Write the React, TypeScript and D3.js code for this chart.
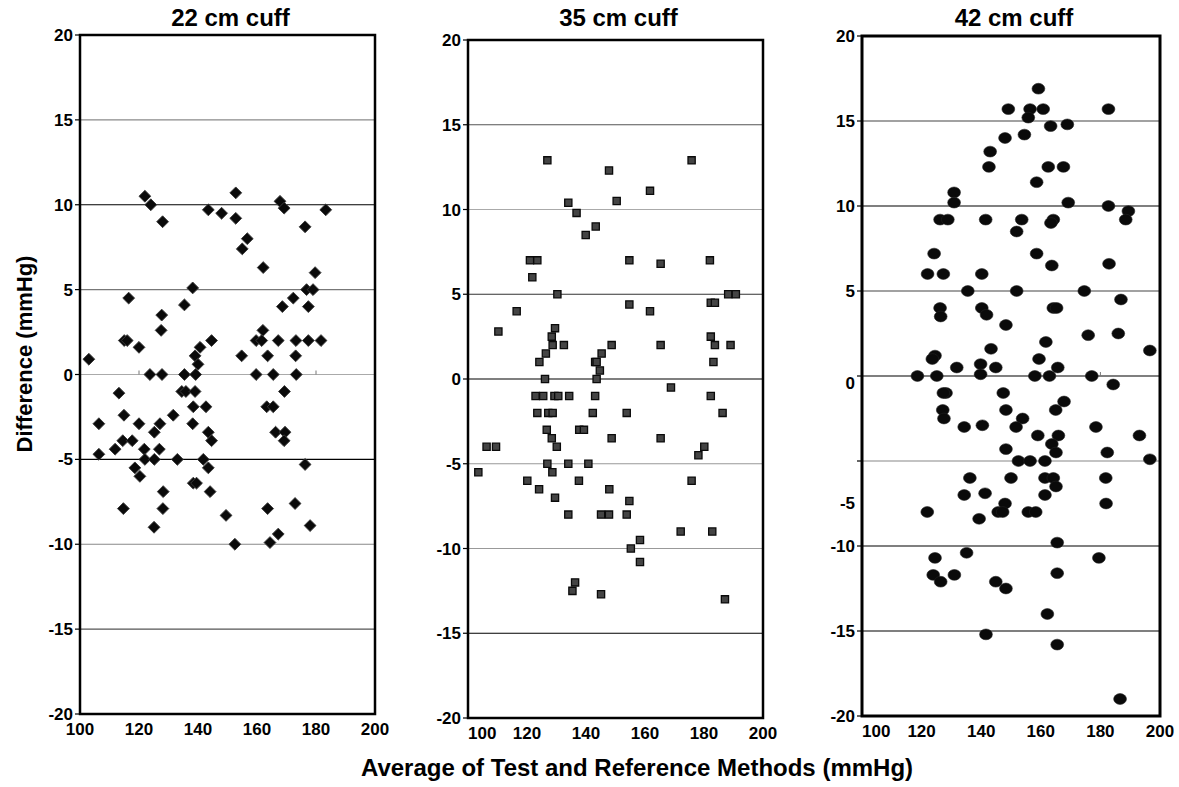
import React from "react";
import * as d3 from "d3";

// ---------- data ----------
const titles = ["22 cm cuff", "35 cm cuff", "42 cm cuff"];
const xTicks = [100, 120, 140, 160, 180, 200];
const yTicks = [20, 15, 10, 5, 0, -5, -10, -15, -20];
const xTitle = "Average of Test and Reference Methods (mmHg)";
const yTitle = "Difference (mmHg)";

// 22 cm cuff: [average, difference]
const cuff22: [number, number][] = [
  [103, 0.9], [122, 10.5], [124, 10.0], [128, 9.0], [115, 2.0], [116, 2.0], [116.5, 4.5], [120, 1.6],
  [127.7, 3.5], [127.5, 2.6], [123.7, 0], [127.8, 0], [135.4, 4.1], [138.2, 5.1], [135.4, 0], [139.2, 0],
  [139, 1.1], [140.7, 1.6], [140, 0.6], [143.5, 9.7], [148, 9.5], [152.8, 10.7], [152.8, 9.2], [144.6, 2.0],
  [156.7, 8.0], [155, 7.4], [154.8, 1.1], [162.1, 6.3], [159.7, 2.0], [162, 2.6], [161.6, 2.0], [163.6, 1.1],
  [159.7, 0], [165.5, 0], [167.8, 10.2], [169.2, 9.8], [168.6, 4.0], [167.2, 2.0], [172.3, 4.5], [173.2, 2.0],
  [173.1, 1.1], [173.3, 0], [176.3, 8.7], [176.8, 5.0], [179, 5.0], [179.7, 6.0], [177.4, 4.0], [177.4, 2.0],
  [181.7, 2.0], [183.3, 9.7],
  [106.4, -2.9], [106.4, -4.7], [113.2, -1.1], [114.9, -2.4], [111.9, -4.4], [114.5, -3.9], [117.7, -3.9],
  [114.7, -7.9], [118.6, -5.5], [120.3, -6.0], [120, -2.9], [121.8, -4.4], [122, -5.0], [125.2, -3.4],
  [127.1, -2.9], [126.9, -4.4], [125.2, -5.0], [128.2, -6.9], [128.1, -7.9], [125.1, -9.0], [131.6, -2.4],
  [133, -5.0], [134.5, -1.0], [135.9, -1.0], [139, -1.0], [138.4, -1.9], [138.2, -2.9], [142.7, -1.9],
  [143.5, -3.4], [144.6, -3.9], [141.8, -5.0], [143.5, -5.5], [138.4, -6.4], [139.5, -6.4], [144.1, -6.9],
  [149.5, -8.3], [152.5, -10.0], [163.3, -1.9], [165.5, -1.9], [169.3, -1.0], [166.3, -3.4], [169.5, -3.4],
  [169.2, -3.9], [176.3, -5.3], [172.9, -7.6], [163.6, -7.9], [164.4, -9.9], [167.2, -9.4], [178, -8.9],
];

// 35 cm cuff
const cuff35: [number, number][] = [
  [110.3, 2.8], [116.5, 4.0], [121, 7.0], [123.5, 7.0], [121.8, 6.0], [126.9, 12.9], [134, 10.4], [136.8, 9.8],
  [139.9, 8.5], [143.3, 9.0], [147.8, 12.3], [150.4, 10.5], [130.3, 5.0], [129.5, 3.0], [128.4, 2.5], [128.7, 2.0],
  [132.5, 2.0], [126.4, 1.5], [124.2, 1.0], [126.1, 0], [143.1, 1.0], [143.6, 1.0], [145.3, 1.5], [144.7, 0.5],
  [143.6, 0], [148.7, 2.0], [154.7, 7.0], [154.7, 4.4], [161.7, 11.1], [161.7, 4.0], [165.3, 6.8], [165.3, 2.0],
  [175.8, 12.9], [182, 7.0], [182.3, 4.5], [183.7, 4.5], [182.3, 2.5], [183.7, 2.0], [183.2, 1.0], [188.2, 5.0],
  [190.8, 5.0], [189, 2.0],
  [122.9, -1], [125.5, -1], [129.3, -1], [130.6, -1], [134.3, -1], [143.1, -1], [123.5, -2], [127.2, -2],
  [128.7, -2], [142.3, -2], [126.7, -3], [128.4, -3.5], [130.1, -4], [137.7, -3], [139.3, -3], [106.3, -4],
  [109.5, -4], [103.5, -5.5], [126.9, -5], [128.6, -5.5], [134, -5], [140.8, -5], [120.1, -6], [124.1, -6.5],
  [129.5, -7], [137.6, -6], [147.9, -6.5], [134, -8], [145.1, -8], [147.8, -8], [153.8, -8], [154.7, -7.2],
  [153.8, -2], [148.7, -3.5], [155.2, -10], [158.3, -9.5], [158.3, -10.8], [135.4, -12.5], [136.3, -12],
  [145.1, -12.7], [168.8, -0.5], [165.3, -3.5], [172.1, -9], [175.8, -6], [178.1, -4.5], [180.1, -4],
  [182.3, -1], [186.3, -2], [182.8, -9], [187.1, -13],
];

// 42 cm cuff
const cuff42: [number, number][] = [
  [159.2, 16.9], [149.1, 15.7], [156.4, 15.7], [160.8, 15.7], [155.8, 15.2], [163.3, 14.7], [168.9, 14.8],
  [182.7, 15.7], [148, 14.0], [154.5, 14.2], [143, 13.2], [142.6, 12.3], [162.5, 12.3], [167.6, 12.3],
  [158.6, 11.4], [130.9, 10.8], [130.9, 10.2], [169.2, 10.2], [182.7, 10.0], [189.4, 9.7], [188.5, 9.2],
  [126.2, 9.2], [128.8, 9.2], [141.5, 9.2], [153.6, 9.2], [151.9, 8.5], [164.2, 9.2], [163.4, 9.0],
  [124.2, 7.2], [158.6, 7.2], [122, 6.0], [127.3, 6.0], [140.2, 6.0], [163.7, 6.5], [182.9, 6.6],
  [135.5, 5.0], [151.9, 5.0], [174.6, 5.0], [186.9, 4.5], [126.2, 4.0], [126.4, 3.5], [140.2, 4.0],
  [141.8, 3.6], [164.2, 4.0], [165.3, 4.0], [148.3, 3.0], [175.9, 2.4], [186, 2.5], [161.7, 2.0],
  [143.3, 1.6], [196.6, 1.5], [124.5, 1.2], [123.6, 1.0], [131.8, 0.5], [144.9, 0.5], [139.8, 0.7],
  [159.4, 1.0], [165.7, 0.5], [118.6, 0], [125.1, 0], [139.8, 0.1], [158, 0], [162.9, 0], [177.1, 0],
  [184.3, -0.5],
  [128.2, -1], [127.3, -1], [127.1, -2], [127.5, -2.5], [147.4, -1], [148.3, -2], [167.8, -1.5], [165, -2],
  [153.9, -2.5], [134.3, -3], [140.4, -2.9], [151.7, -3], [178.5, -3], [159, -3.5], [165.9, -3.5],
  [163.7, -4], [165.1, -4.5], [148.3, -4.3], [193.1, -3.5], [182.3, -4.5], [152.5, -5], [156.4, -5],
  [161.4, -5], [196.6, -4.9], [136.2, -6], [150, -6], [161.4, -6], [164.2, -6], [165.1, -6.5], [181.8, -6],
  [134.3, -7], [141.3, -6.9], [161.4, -7], [148, -7.5], [121.9, -8], [145.7, -8], [147.2, -8], [155.8, -8],
  [158.3, -8], [139.3, -8.4], [181.9, -7.5], [165.5, -9.8], [135.1, -10.4], [124.5, -10.7], [179.5, -10.7],
  [123.9, -11.7], [126.4, -12.1], [131, -11.7], [165.5, -11.6], [144.9, -12.1], [148.3, -12.5], [162.2, -14],
  [141.6, -15.2], [165.5, -15.8], [186.6, -19],
];

// ---------- layout / style ----------
type Panel = {
  title: string;
  data: [number, number][];
  left: number; right: number; top: number; bottom: number;
  marker: "diamond" | "square" | "ellipse";
  grid: Record<string, string>;
  firstXLabelStart: boolean;
  zeroTicks: boolean;
  labelShift: Record<string, number>;
};

const panels: Panel[] = [
  {
    title: titles[0], data: cuff22, left: 80, right: 375, top: 35, bottom: 714, marker: "diamond",
    grid: { "15": "#8a8a8a", "10": "#000", "5": "#777", "0": "#aaa", "-5": "#000", "-10": "#888", "-15": "#555" },
    firstXLabelStart: false, zeroTicks: true, labelShift: {},
  },
  {
    title: titles[1], data: cuff35, left: 468, right: 763, top: 40, bottom: 718, marker: "square",
    grid: { "15": "#555", "10": "#aaa", "5": "#333", "0": "#000", "-5": "#999", "-10": "#999", "-15": "#000" },
    firstXLabelStart: true, zeroTicks: false, labelShift: {},
  },
  {
    title: titles[2], data: cuff42, left: 862, right: 1160, top: 36, bottom: 716, marker: "ellipse",
    grid: { "15": "#444", "10": "#000", "5": "#444", "0": "#000", "-5": "#888", "-10": "#000", "-15": "#000" },
    firstXLabelStart: true, zeroTicks: true, labelShift: { "0": 7, "-5": 42 },
  },
];

const FONT = "'Liberation Sans', Arial, Helvetica, sans-serif";

function PanelView({ p }: { p: Panel }) {
  const x = d3.scaleLinear().domain([100, 200]).range([p.left, p.right]);
  const y = d3.scaleLinear().domain([-20, 20]).range([p.bottom, p.top]);
  const diamond = d3.symbol(d3.symbolSquare, 70)() as string;
  const square = d3.symbol(d3.symbolSquare, 52)() as string;
  const cx = (p.left + p.right) / 2 + 3;

  return (
    <g>
      <text x={cx} y={26} textAnchor="middle" fontFamily={FONT} fontWeight="bold" fontSize={24}>
        {p.title}
      </text>
      {/* gridlines */}
      {yTicks.filter((t) => t !== 20 && t !== -20).map((t) => (
        <line key={"g" + t} x1={p.left} x2={p.right} y1={y(t)} y2={y(t)}
          stroke={p.grid[String(t)] || "#666"} strokeWidth={1.2} />
      ))}
      {/* y ticks and labels */}
      {yTicks.map((t) => (
        <g key={"y" + t}>
          <line x1={p.left - 5} x2={p.left} y1={y(t)} y2={y(t)} stroke="#000" strokeWidth={1.2} />
          <text x={p.left - 7} y={y(t) + (p.labelShift[String(t)] || 0)} dy="0.36em" textAnchor="end"
            fontFamily={FONT} fontWeight="bold" fontSize={17}>
            {t}
          </text>
        </g>
      ))}
      {/* zero-line x ticks */}
      {p.zeroTicks && xTicks.slice(1, -1).map((t) => (
        <line key={"z" + t} x1={x(t)} x2={x(t)} y1={y(0) - 4} y2={y(0)} stroke="#777" strokeWidth={1} />
      ))}
      {/* x labels */}
      {xTicks.map((t, i) => (
        <text key={"x" + t} x={x(t)} y={p.bottom + 21}
          textAnchor={i === 0 && p.firstXLabelStart ? "start" : "middle"}
          fontFamily={FONT} fontWeight="bold" fontSize={17}>
          {t}
        </text>
      ))}
      {/* points */}
      {p.data.map(([a, b], i) => {
        const px = x(a), py = y(b);
        if (p.marker === "diamond")
          return <path key={i} d={diamond} transform={`translate(${px},${py}) rotate(45)`}
            fill="#0a0a0a" stroke="#3a3a3a" strokeWidth={0.9} />;
        if (p.marker === "square")
          return <path key={i} d={square} transform={`translate(${px},${py})`}
            fill="#444" stroke="#0a0a0a" strokeWidth={1.3} />;
        return <ellipse key={i} cx={px} cy={py} rx={6.4} ry={5.4} fill="#0a0a0a" stroke="#222" strokeWidth={0.6} />;
      })}
      {/* frame */}
      <rect x={p.left} y={p.top} width={p.right - p.left} height={p.bottom - p.top}
        fill="none" stroke="#000" strokeWidth={p.marker === "ellipse" ? 3 : 2.5} />
    </g>
  );
}

export default function App() {
  return (
    <svg width={1179} height={787} style={{ position: "absolute", left: 0, top: 0, background: "#fff" }}>
      <rect width={1179} height={787} fill="#fff" />
      {panels.map((p, i) => <PanelView key={i} p={p} />)}
      <text transform="translate(32,354) rotate(-90)" textAnchor="middle" fontFamily={FONT}
        fontWeight="bold" fontSize={22}>
        {yTitle}
      </text>
      <text x={637} y={776} textAnchor="middle" fontFamily={FONT} fontWeight="bold" fontSize={24}>
        {xTitle}
      </text>
    </svg>
  );
}
